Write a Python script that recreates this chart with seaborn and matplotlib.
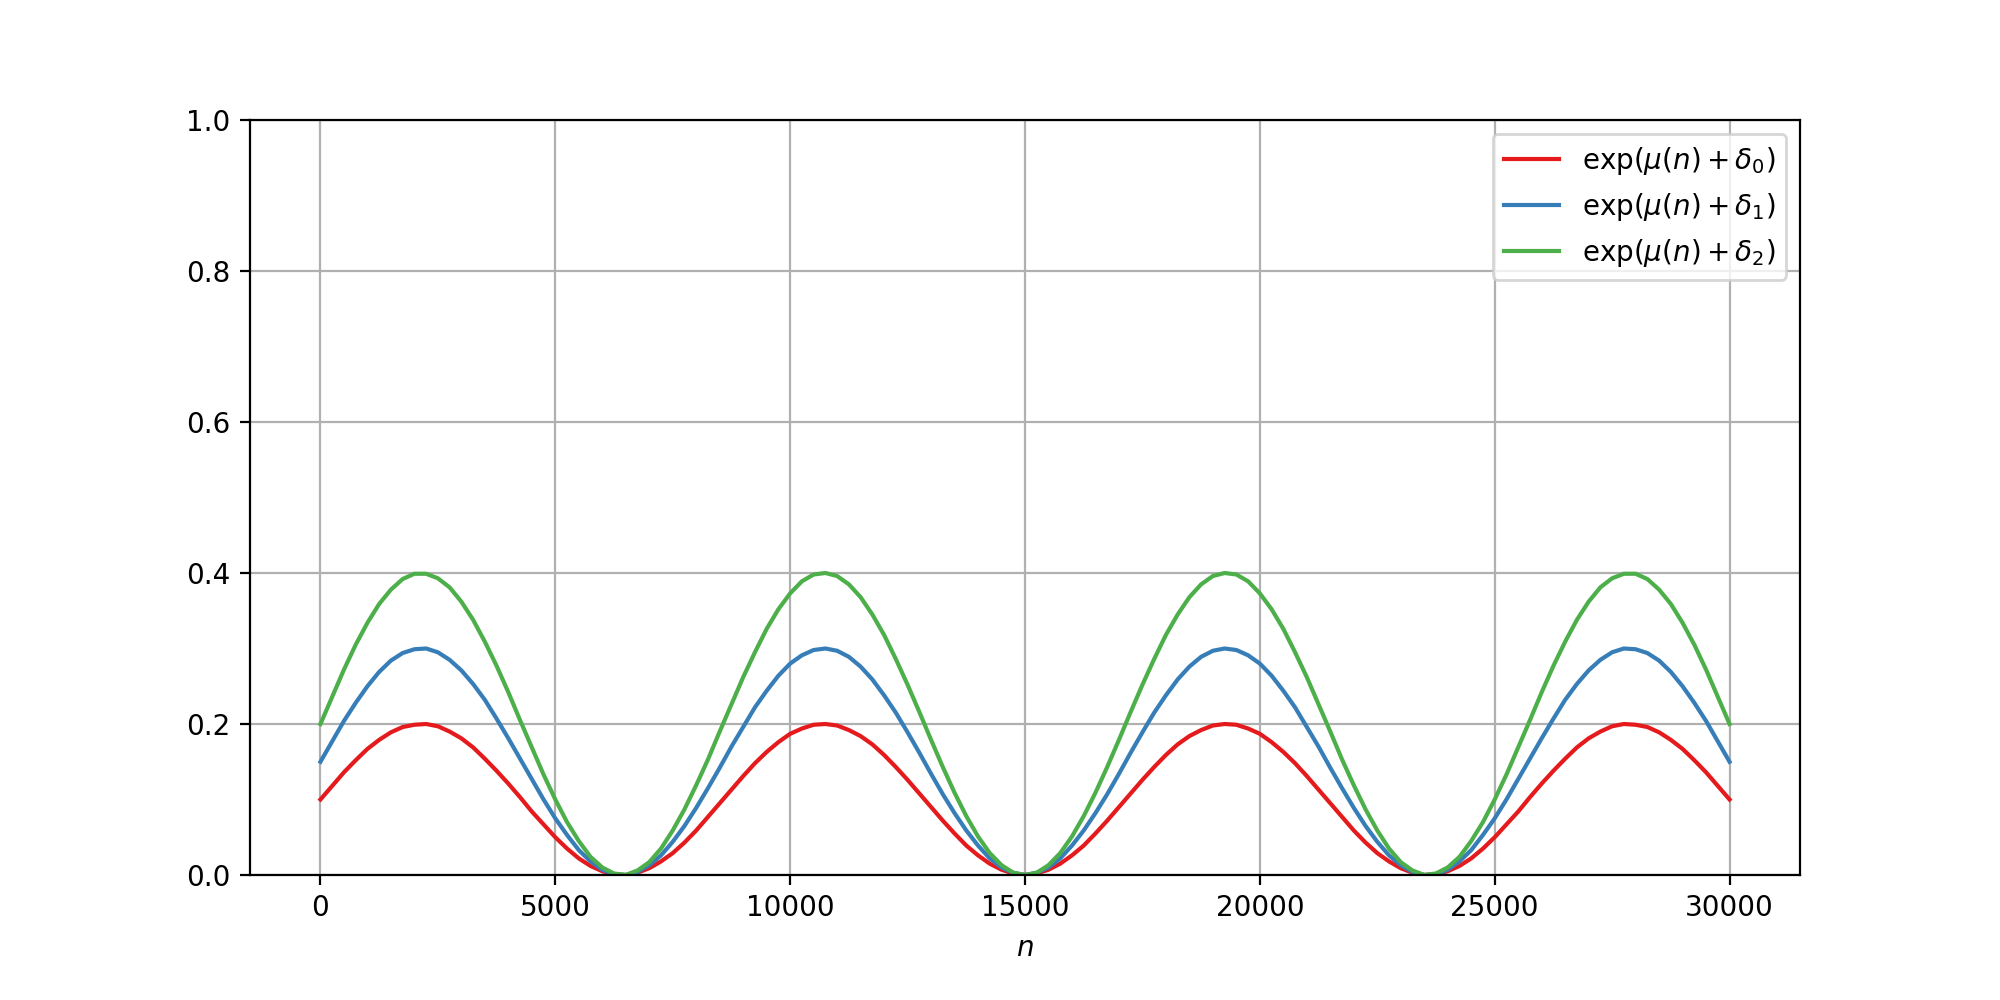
import numpy as np
import pandas as pd
import matplotlib
matplotlib.use("Agg")
import matplotlib.pyplot as plt
import seaborn as sns

n = np.arange(0, 30001, 250)
delta0 = [0.100, 0.118, 0.136, 0.152, 0.167, 0.179, 0.189, 0.196, 0.199, 0.200,
          0.197, 0.190, 0.181, 0.169, 0.154, 0.138, 0.121, 0.103, 0.084, 0.067,
          0.050, 0.035, 0.022, 0.012, 0.005, 0.001, 0.000, 0.003, 0.009, 0.018,
          0.029, 0.043, 0.059, 0.077, 0.095, 0.113, 0.131, 0.148, 0.163, 0.176,
          0.187, 0.194, 0.199, 0.200, 0.198, 0.192, 0.184, 0.173, 0.159, 0.143,
          0.126, 0.108, 0.090, 0.072, 0.055, 0.039, 0.026, 0.015, 0.007, 0.002,
          0.000,
          0.002, 0.007, 0.015, 0.026, 0.039, 0.055, 0.072, 0.090, 0.108, 0.126,
          0.143, 0.159, 0.173, 0.184, 0.192, 0.198, 0.200, 0.199, 0.194, 0.187,
          0.176, 0.163, 0.148, 0.131, 0.113, 0.095, 0.077, 0.059, 0.043, 0.029,
          0.018, 0.009, 0.003, 0.000, 0.001, 0.005, 0.012, 0.022, 0.035, 0.050,
          0.067, 0.084, 0.103, 0.121, 0.138, 0.154, 0.169, 0.181, 0.190, 0.197,
          0.200, 0.199, 0.196, 0.189, 0.179, 0.167, 0.152, 0.136, 0.118, 0.100]
delta1 = [0.150, 0.177, 0.204, 0.228, 0.250, 0.269, 0.284, 0.294, 0.299, 0.300,
          0.295, 0.285, 0.271, 0.253, 0.232, 0.207, 0.181, 0.154, 0.127, 0.100,
          0.075, 0.053, 0.033, 0.018, 0.007, 0.001, 0.000, 0.004, 0.013, 0.026,
          0.044, 0.065, 0.089, 0.115, 0.142, 0.170, 0.196, 0.222, 0.244, 0.264,
          0.280, 0.291, 0.298, 0.300, 0.297, 0.289, 0.276, 0.259, 0.238, 0.215,
          0.189, 0.162, 0.134, 0.107, 0.082, 0.059, 0.039, 0.022, 0.010, 0.003,
          0.000,
          0.003, 0.010, 0.022, 0.039, 0.059, 0.082, 0.107, 0.134, 0.162, 0.189,
          0.215, 0.238, 0.259, 0.276, 0.289, 0.297, 0.300, 0.298, 0.291, 0.280,
          0.264, 0.244, 0.222, 0.196, 0.170, 0.142, 0.115, 0.089, 0.065, 0.044,
          0.026, 0.013, 0.004, 0.000, 0.001, 0.007, 0.018, 0.033, 0.053, 0.075,
          0.100, 0.127, 0.154, 0.181, 0.207, 0.232, 0.253, 0.271, 0.285, 0.295,
          0.300, 0.299, 0.294, 0.284, 0.269, 0.250, 0.228, 0.204, 0.177, 0.150]
delta2 = [0.200, 0.236, 0.272, 0.305, 0.334, 0.359, 0.378, 0.392, 0.399, 0.399,
          0.393, 0.381, 0.362, 0.338, 0.309, 0.277, 0.242, 0.205, 0.169, 0.133,
          0.100, 0.070, 0.045, 0.024, 0.010, 0.002, 0.000, 0.006, 0.017, 0.035,
          0.059, 0.087, 0.119, 0.153, 0.190, 0.226, 0.262, 0.295, 0.326, 0.352,
          0.373, 0.389, 0.398, 0.400, 0.396, 0.385, 0.368, 0.345, 0.318, 0.286,
          0.252, 0.216, 0.179, 0.143, 0.109, 0.078, 0.051, 0.029, 0.013, 0.003,
          0.000,
          0.003, 0.013, 0.029, 0.051, 0.078, 0.109, 0.143, 0.179, 0.216, 0.252,
          0.286, 0.318, 0.345, 0.368, 0.385, 0.396, 0.400, 0.398, 0.389, 0.373,
          0.352, 0.326, 0.295, 0.262, 0.226, 0.190, 0.153, 0.119, 0.087, 0.059,
          0.035, 0.017, 0.006, 0.000, 0.002, 0.010, 0.024, 0.045, 0.070, 0.100,
          0.133, 0.169, 0.205, 0.242, 0.277, 0.309, 0.338, 0.362, 0.381, 0.393,
          0.399, 0.399, 0.392, 0.378, 0.359, 0.334, 0.305, 0.272, 0.236, 0.200]
labels = [r"$\exp(\mu(n) + \delta_0)$",
          r"$\exp(\mu(n) + \delta_1)$",
          r"$\exp(\mu(n) + \delta_2)$"]

df = pd.DataFrame({"n": np.tile(n, 3),
                   "value": delta0 + delta1 + delta2,
                   "series": np.repeat(labels, len(n))})

##PLOT
fig, ax = plt.subplots(figsize=(10, 5), dpi=200)
fig.subplots_adjust(bottom=0.125)
sns.lineplot(data=df, x="n", y="value", hue="series",
             palette=sns.color_palette("Set1", 3), linewidth=1.5, ax=ax)
ax.set_ylim(0, 1)
ax.grid(True)
ax.set_xlabel("$n$")
ax.set_ylabel("")
ax.legend(title=None, loc="upper right")

fig.savefig("out.png")
